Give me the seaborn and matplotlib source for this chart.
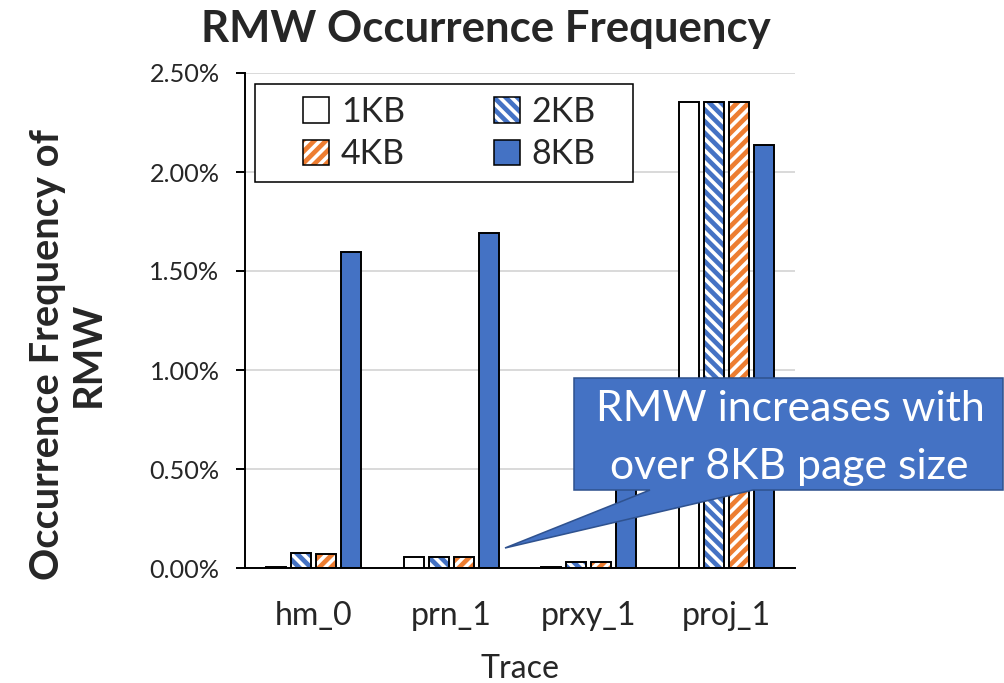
import numpy as np
import pandas as pd
import matplotlib
matplotlib.use("Agg")
import matplotlib.pyplot as plt
import seaborn as sns
from matplotlib.patches import Patch, Rectangle, Polygon
from matplotlib.ticker import FuncFormatter, FixedLocator

# ---------------- data ----------------
traces = ["hm_0", "prn_1", "prxy_1", "proj_1"]
page_sizes = ["1KB", "2KB", "4KB", "8KB"]
rmw_1kb = [0.005, 0.055, 0.003, 2.355]   # percent
rmw_2kb = [0.074, 0.057, 0.032, 2.355]
rmw_4kb = [0.069, 0.057, 0.030, 2.355]
rmw_8kb = [1.595, 1.690, 0.700, 2.135]
y_ticks = [0.0, 0.5, 1.0, 1.5, 2.0, 2.5]

title = "RMW Occurrence Frequency"
x_label = "Trace"
y_label = "Occurrence Frequency of\nRMW"
callout_lines = ["RMW increases with", "over 8KB page size"]

# ---------------- styling ----------------
BLUE = "#4472C4"
ORANGE = "#ED7D31"
DPI = 140
W, H = 1004, 683
HATCH_2KB = "\\\\\\\\"
HATCH_4KB = "////"

sns.set_style("white")
plt.rcParams["font.family"] = ["Lato", "DejaVu Sans"]
plt.rcParams["hatch.linewidth"] = 2.4


def px(x, y):
    return (x / W, 1 - y / H)


df = pd.DataFrame({"1KB": rmw_1kb, "2KB": rmw_2kb, "4KB": rmw_4kb, "8KB": rmw_8kb},
                  index=traces)
df.index.name = "Trace"
long = df.reset_index().melt(id_vars="Trace", var_name="Page", value_name="RMW")

fig = plt.figure(figsize=(W / DPI, H / DPI), dpi=DPI)
ax = fig.add_axes([245 / W, 1 - 568 / H, 550 / W, 495 / H])

sns.barplot(data=long, x="Trace", y="RMW", hue="Page", order=traces,
            hue_order=page_sizes, palette=["white", "white", "white", BLUE],
            saturation=1, width=0.727, gap=0.2, edgecolor="black",
            linewidth=1.0, legend=False, ax=ax)

hatch_styles = {"2KB": (HATCH_2KB, BLUE), "4KB": (HATCH_4KB, ORANGE)}
for level, container in zip(page_sizes, ax.containers):
    if level in hatch_styles:
        h, c = hatch_styles[level]
        for bar in container:
            bar.set_hatch(h)
            bar.set_edgecolor(c)
            bar.set_linewidth(0)
            ax.add_patch(Rectangle(bar.get_xy(), bar.get_width(), bar.get_height(),
                                   fill=False, edgecolor="black", linewidth=1.0,
                                   zorder=bar.get_zorder() + 0.1))

ax.set_ylim(0, 2.5)
ax.yaxis.set_major_locator(FixedLocator(y_ticks))
ax.yaxis.set_major_formatter(FuncFormatter(lambda v, p: f"{v:.2f}%"))
ax.yaxis.grid(True, color="#D9D9D9", linewidth=1.0)
ax.set_axisbelow(True)
for s in ["top", "right"]:
    ax.spines[s].set_visible(False)
for s in ["left", "bottom"]:
    ax.spines[s].set_color("black")
    ax.spines[s].set_linewidth(1.0)

ax.tick_params(axis="y", length=4.6, width=1.0, color="black", labelsize=13,
               pad=8.5, direction="out", left=True)
ax.tick_params(axis="x", length=0, labelsize=16.5, pad=17)
ax.set_ylabel("")
ax.set_xlabel(x_label, fontsize=16.5, labelpad=12)

fig.text(*px(486, 42), title, ha="center", va="baseline", fontsize=22.5,
         fontweight="bold")
fig.text(*px(68, 354), y_label, rotation=90, ha="center", va="center",
         fontsize=20.5, fontweight="bold", linespacing=1.12, multialignment="center")

# legend with framed box
fig.add_artist(Rectangle(px(255, 182), 378 / W, 98 / H, transform=fig.transFigure,
                         facecolor="white", edgecolor="black", linewidth=0.8,
                         zorder=3))
handle_map = {
    "1KB": Patch(facecolor="white", edgecolor="black", linewidth=0.8),
    "2KB": (Patch(facecolor="white", edgecolor=BLUE, hatch=HATCH_2KB, linewidth=0),
            Patch(fill=False, edgecolor="black", linewidth=0.8)),
    "4KB": (Patch(facecolor="white", edgecolor=ORANGE, hatch=HATCH_4KB, linewidth=0),
            Patch(fill=False, edgecolor="black", linewidth=0.8)),
    "8KB": Patch(facecolor=BLUE, edgecolor="black", linewidth=0.8),
}
order = ["1KB", "4KB", "2KB", "8KB"]
leg = fig.legend([handle_map[k] for k in order], order, loc="center",
                 bbox_to_anchor=px(449.5, 133), ncol=2, frameon=False,
                 fontsize=17.5, handlelength=0.76, handleheight=0.76,
                 handletextpad=0.36, columnspacing=2.6, labelspacing=0.3)
leg.set_zorder(4)

# callout
poly = [px(574, 378), px(1003, 378), px(1003, 490), px(753, 490), px(505, 548),
        px(650, 490), px(574, 490)]
fig.add_artist(Polygon(poly, closed=True, transform=fig.transFigure,
                       facecolor=BLUE, edgecolor="#2F528F", linewidth=0.8, zorder=5))
fig.text(*px(790, 421), callout_lines[0], ha="center", va="baseline",
         color="white", fontsize=22, zorder=6)
fig.text(*px(789, 479), callout_lines[1], ha="center", va="baseline",
         color="white", fontsize=22, zorder=6)

fig.savefig("out.png", dpi=DPI)
